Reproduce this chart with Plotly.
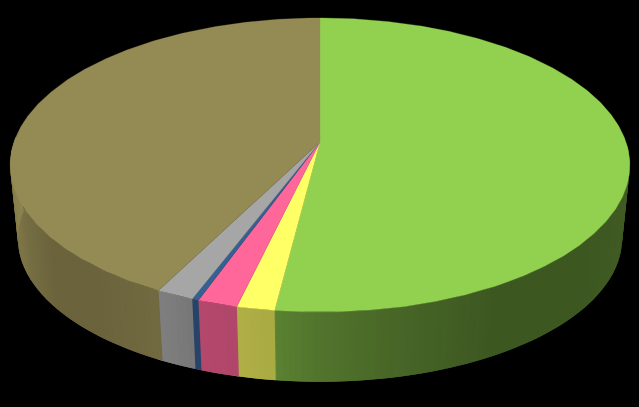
import numpy as np
import plotly.graph_objects as go

labels = ["Green", "Yellow", "Pink", "Blue", "Grey", "Tan"]
values = [52.0, 1.7, 1.8, 0.3, 1.7, 42.5]
top_colors = ["#92D050", "#FFFF66", "#FF6699", "#376092", "#A6A6A6", "#948A54"]

# wall brightness relative to the top colour, by angle clockwise from 12 o'clock
shade_angles = [90, 110, 130, 150, 165, 180, 186.9, 187.3, 200, 207, 220, 232, 250, 265, 272]
shade_levels = [0.50, 0.44, 0.42, 0.42, 0.48, 0.56, 0.62, 0.67, 0.71, 0.77, 0.72, 0.72, 0.85, 0.93, 0.96]

# perspective of the disc
cx, cy = 320, 142
rx, ry, k = 306, 143.4, 0.1565
wall_y, wall_scale = 216, 0.975


def rim(a, y0=cy, s=1.0):
    a = np.radians(a)
    u, v = np.sin(a), np.cos(a)
    w = 1 + k * v
    return cx + s * rx * u / w, y0 - s * ry * v / w


def to_hex(color, f):
    r, g, b = [int(color[i:i + 2], 16) for i in (1, 3, 5)]
    return "#%02x%02x%02x" % (int(r * f), int(g * f), int(b * f))


edges = np.concatenate([[0], np.cumsum(values)]) * 3.6

fig = go.Figure()

# side wall, front half only. each strip runs on under the next one so no seams show
for i, name in enumerate(labels):
    a0, a1 = max(edges[i], 90), min(edges[i + 1], 272)
    if a1 <= a0:
        continue
    steps = np.append(np.arange(a0, a1, 1.0), a1)
    for s0, s1 in zip(steps[:-1], steps[1:]):
        col = to_hex(top_colors[i], np.interp((s0 + s1) / 2, shade_angles, shade_levels))
        arc = np.linspace(s0, min(s1 + 1.0, 272), 3)
        xa, ya = rim(arc)
        xb, yb = rim(arc[::-1], wall_y, wall_scale)
        fig.add_trace(go.Scatter(
            x=list(xa) + list(xb), y=list(ya) + list(yb),
            mode="lines", fill="toself", fillcolor=col,
            line=dict(color=col, width=0),
            hoverinfo="skip", showlegend=False,
        ))

# top face
for i, name in enumerate(labels):
    arc = np.linspace(edges[i], edges[i + 1], max(int(values[i] * 6), 4))
    xs, ys = rim(arc)
    fig.add_trace(go.Scatter(
        x=[cx] + list(xs) + [cx], y=[cy] + list(ys) + [cy],
        mode="lines", fill="toself", fillcolor=top_colors[i],
        line=dict(color=top_colors[i], width=0.3),
        name=name, hoverinfo="name", showlegend=False,
    ))

fig.update_layout(
    width=639, height=407,
    margin=dict(l=0, r=0, t=0, b=0),
    paper_bgcolor="black", plot_bgcolor="black",
    showlegend=False,
    xaxis=dict(range=[0, 639], visible=False, fixedrange=True),
    yaxis=dict(range=[407, 0], visible=False, fixedrange=True),
)
fig.write_html(
    "out.html",
    config={"displayModeBar": False},
    post_script="document.body.style.margin='0';document.body.style.background='black';document.documentElement.style.overflow='hidden';",
)
